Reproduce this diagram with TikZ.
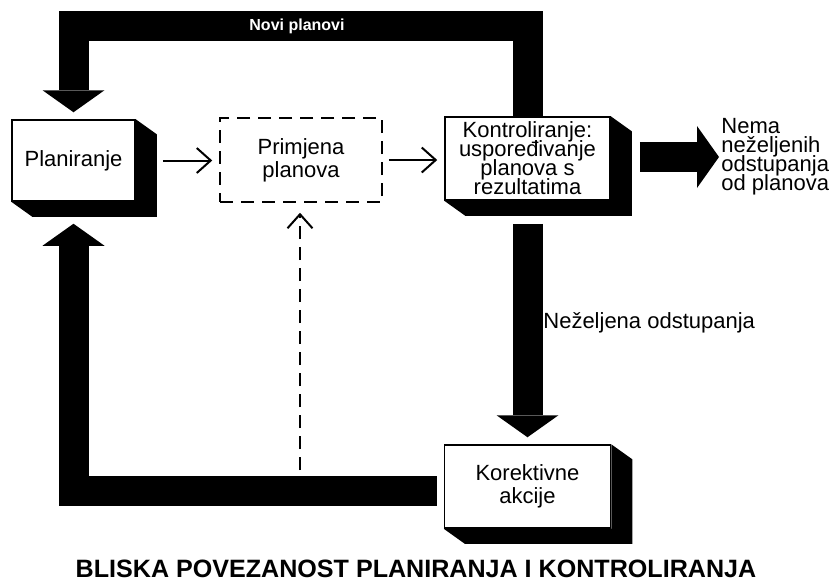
\documentclass[tikz,border=0pt]{standalone}
\usepackage{fontspec}
\setmainfont{Liberation Sans}
\usetikzlibrary{arrows.meta}

\newcommand{\dubina}[1]{\fill (#1.north east) -- ([shift={(\dx,\dy)}]#1.north east) -- ([shift={(\dx,\dy)}]#1.south east) -- ([shift={(\dx,\dy)}]#1.south west) -- (#1.south west) -- (#1.south east) -- cycle;}
\newcommand{\gustofont}{\fontsize{11}{9.5}\selectfont\setlength{\lineskiplimit}{-5pt}}

\tikzset{
	blok/.style={draw, fill=white, line width=0.75pt, inner sep=0pt, align=center, font=\fontsize{11}{11.5}\selectfont},
	gusto/.style={font=\gustofont},
	debela/.style={line width=15pt, -{Triangle[length=11pt, width=31pt, line width=0pt]}},
	tanka/.style={line width=1pt, -{Straight Barb[length=7pt, width=12.5pt]}},
	crtkano/.style={dash pattern=on 6.5pt off 4pt},
}

\begin{document}
\begin{tikzpicture}[x=0.5pt, y=-0.5pt]
		\def \dx{ 21 };
		\def \dy{ 15 };
		\useasboundingbox (0,0) rectangle (832,584);
		\node[blok, minimum width=61.5pt, minimum height=40.5pt] (pla) at (73.5,160.5) {Planiranje};
		\node[blok, crtkano, minimum width=81pt, minimum height=42pt] (pri) at (301,160) {Primjena\\planova};
		\node[blok, gusto, minimum width=82.5pt, minimum height=41.5pt] (kon) at (527.5,158.5) {Kontroliranje:\\uspoređivanje\\planova s\\rezultatima};
		\node[blok, minimum width=83pt, minimum height=41.5pt] (kor) at (527.5,486.5) {Korektivne\\akcije};
		\node[gusto, anchor=west, inner sep=0pt, align=left] (nema) at (721,157) {Nema\\neželjenih\\odstupanja\\od planova};
		\node[anchor=west, inner sep=0pt, font=\fontsize{11}{13}\selectfont] (nez) at (543,323) {Neželjena odstupanja};
		\dubina{pla};
		\dubina{kon};
		\dubina{kor};
		\draw[debela, shorten >=3.5pt] (kon.north) -- (kon.north |- 0,26) -| (pla.north);
		\draw[debela, shorten <=14.5pt, shorten >=1pt] (kon.east |- nema.west) -- (nema.west);
		\draw[debela, shorten <=11.5pt, shorten >=3.5pt] (kon.south) -- (kor.north);
		\draw[debela, shorten <=3.5pt, shorten >=11pt] ([yshift=-2pt]kor.west) -| (pla.south);
		\draw[tanka, shorten <=13.5pt, shorten >=3.5pt] (pla.east) -- (pla.east -| pri.west);
		\draw[tanka, shorten <=3pt, shorten >=3.5pt] (pri.east) -- (pri.east -| kon.west);
		\coordinate (d) at (300,470);
		\draw[tanka, crtkano, shorten >=5pt] (d) -- (d |- pri.south);
		\node[text=white, inner sep=0pt, font=\fontsize{8}{10}\bfseries] (novi) at (297,26) {Novi planovi};
		\node[inner sep=0pt, font=\fontsize{12.55}{15}\bfseries] (naslov) at (416,569) {BLISKA POVEZANOST PLANIRANJA I KONTROLIRANJA};
	\end{tikzpicture}
\end{document}
